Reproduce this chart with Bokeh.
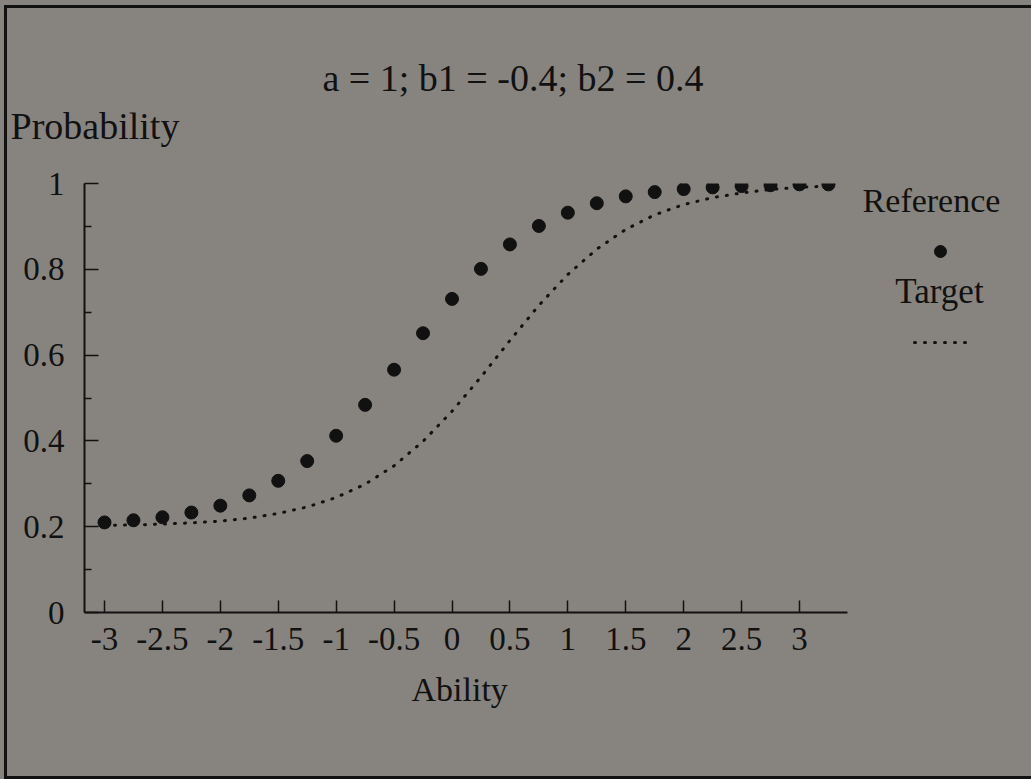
from bokeh.plotting import figure
from bokeh.models import Label, FixedTicker, Range1d, GlobalInlineStyleSheet, Title
from bokeh.embed import file_html
from bokeh.resources import INLINE

# ---------------- data ----------------
ability = [-3.0, -2.75, -2.5, -2.25, -2.0, -1.75, -1.5, -1.25, -1.0, -0.75, -0.5, -0.25,
           0.0, 0.25, 0.5, 0.75, 1.0, 1.25, 1.5, 1.75, 2.0, 2.25, 2.5, 2.75, 3.0, 3.25]
reference_prob = [0.210, 0.215, 0.222, 0.233, 0.249, 0.273, 0.307, 0.353, 0.412, 0.484,
                  0.566, 0.651, 0.731, 0.801, 0.858, 0.901, 0.932, 0.954, 0.970, 0.980,
                  0.987, 0.991, 0.994, 0.996, 0.998, 0.998]
target_prob = [0.203, 0.204, 0.206, 0.209, 0.213, 0.220, 0.231, 0.246, 0.268, 0.299,
               0.342, 0.399, 0.469, 0.549, 0.634, 0.716, 0.788, 0.847, 0.893, 0.927,
               0.951, 0.967, 0.978, 0.986, 0.991, 0.994]
series_names = ["Reference", "Target"]
x_ticks = [-3, -2.5, -2, -1.5, -1, -0.5, 0, 0.5, 1, 1.5, 2, 2.5, 3]
x_tick_labels = ["-3", "-2.5", "-2", "-1.5", "-1", "-0.5", "0", "0.5", "1", "1.5", "2", "2.5", "3"]
y_ticks = [0, 0.2, 0.4, 0.6, 0.8, 1.0]
y_tick_labels = ["0", "0.2", "0.4", "0.6", "0.8", "1"]
y_minor_ticks = [0.1, 0.3, 0.5, 0.7, 0.9]
title_text = "a = 1; b1 = -0.4; b2 = 0.4"
x_title = "Ability"
y_title = "Probability"

# ---------------- layout (page pixels) ----------------
PAGE_X, PAGE_Y = 7, 8              # where the figure's canvas starts on the page
FR_LEFT, FR_TOP, FR_BOTTOM = 84, 184, 613
FR_RIGHT = 1016
CANVAS_RIGHT = 1020
TICK_LO_PX, TICK_HI_PX = 104, 799   # pixel positions of x=-3 and x=3
AXIS_END_PX = 847
BG = "#87847f"
INK = "#111111"
FONT = "Liberation Serif"

sx = (TICK_HI_PX - TICK_LO_PX) / (x_ticks[-1] - x_ticks[0])
x_start = x_ticks[0] - (TICK_LO_PX - FR_LEFT) / sx
x_end = x_start + (FR_RIGHT - FR_LEFT) / sx
sy = FR_BOTTOM - FR_TOP


def dx(px):
    return x_start + (px - FR_LEFT) / sx


def dy(py):
    return (FR_BOTTOM - py) / sy


p = figure(frame_width=FR_RIGHT - FR_LEFT, frame_height=FR_BOTTOM - FR_TOP,
           output_backend="svg", toolbar_location=None, title_location=None,
           x_range=Range1d(x_start, x_end), y_range=Range1d(0, 1),
           min_border_left=FR_LEFT - PAGE_X, min_border_top=0,
           min_border_right=CANVAS_RIGHT - FR_RIGHT, min_border_bottom=776 - FR_BOTTOM,
           background_fill_color=BG, border_fill_color=BG, outline_line_color=None)
p.grid.visible = False
p.styles = {"margin-left": f"{PAGE_X}px", "margin-top": f"{PAGE_Y}px"}
page_css = (
    f"body {{ background: {BG}; }}\n"
    f"body::before {{ content: ''; position: fixed; left: 4px; top: 5px; right: -40px; "
    f"height: 768px; border-left: 3px solid {INK}; border-top: 3px solid {INK}; "
    f"border-bottom: 3px solid {INK}; pointer-events: none; z-index: 100; }}"
)
p.stylesheets = [GlobalInlineStyleSheet(css=page_css)]

# x axis
xa = p.xaxis[0]
xa.ticker = FixedTicker(ticks=x_ticks)
xa.major_label_overrides = {t: l for t, l in zip(x_ticks, x_tick_labels)}
xa.bounds = (x_start, dx(AXIS_END_PX))
xa.major_tick_in, xa.major_tick_out = 12, 0
xa.minor_tick_in, xa.minor_tick_out = 0, 0
xa.axis_line_width, xa.axis_line_color = 2, INK
xa.major_tick_line_width, xa.major_tick_line_color = 1.5, INK
xa.major_label_text_font = FONT
xa.major_label_text_font_size = "33px"
xa.major_label_text_color = INK
xa.major_label_standoff = 15

# y axis
ya = p.yaxis[0]
ya.ticker = FixedTicker(ticks=y_ticks, minor_ticks=y_minor_ticks)
ya.major_label_overrides = {t: l for t, l in zip(y_ticks, y_tick_labels)}
ya.major_tick_in, ya.major_tick_out = 14, 0
ya.minor_tick_in, ya.minor_tick_out = 7, 0
ya.axis_line_width, ya.axis_line_color = 2, INK
ya.major_tick_line_width, ya.major_tick_line_color = 1.5, INK
ya.minor_tick_line_width, ya.minor_tick_line_color = 1.5, INK
ya.major_label_text_font = FONT
ya.major_label_text_font_size = "33px"
ya.major_label_text_color = INK
ya.major_label_standoff = 20


# titles stacked around the frame (first added = closest to the frame)
def add_title(txt, size, standoff, side="above", offset=0, valign="bottom"):
    p.add_layout(Title(text=txt, align="left", offset=offset, vertical_align=valign,
                       standoff=standoff, text_font=FONT, text_font_size=size,
                       text_font_style="normal", text_color=INK), side)


add_title(" ", "2px", 33)                                   # spacer next to frame
add_title(y_title, "38px", 0, offset=10 - FR_LEFT)
add_title(title_text, "38px", 8, offset=322 - FR_LEFT)
add_title(" ", "2px", 38)                                   # spacer at top
add_title(x_title, "34px", 36, side="below", offset=411 - FR_LEFT, valign="top")

# series
p.line(ability, target_prob, line_color=INK, line_width=3, line_dash="1 9", line_cap="round")
p.scatter(ability, reference_prob, size=13, fill_color=INK, line_color=INK)

# legend keys
p.scatter([dx(940)], [dy(252)], size=12, marker="circle", fill_color=INK, line_color=INK)
p.line([dx(914), dx(966)], [dy(343), dy(343)], line_color=INK, line_width=3,
       line_dash="1 9", line_cap="round")


def add_text(txt, px, py, align, size):
    p.add_layout(Label(x=dx(px), y=dy(py), text=txt, text_align=align,
                       text_baseline="alphabetic", text_font=FONT,
                       text_font_size=size, text_color=INK))


add_text(series_names[0], 931, 201, "center", "34px")
add_text(series_names[1], 939, 292, "center", "35px")

open("out.html", "w").write(file_html(p, INLINE))
